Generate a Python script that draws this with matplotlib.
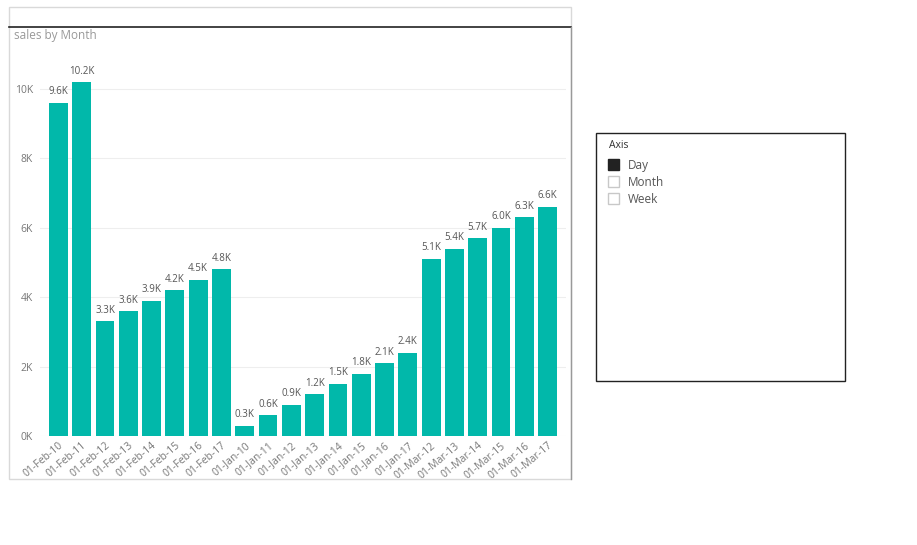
#!/bin/python3

"""
Column chart of sales by month, with an axis slicer box on the right.
"""

import matplotlib.pyplot as plt
from matplotlib.patches import Rectangle
from matplotlib.lines import Line2D

W, H = 917, 545

months = [
    "01-Feb-10", "01-Feb-11", "01-Feb-12", "01-Feb-13", "01-Feb-14", "01-Feb-15",
    "01-Feb-16", "01-Feb-17", "01-Jan-10", "01-Jan-11", "01-Jan-12", "01-Jan-13",
    "01-Jan-14", "01-Jan-15", "01-Jan-16", "01-Jan-17", "01-Mar-12", "01-Mar-13",
    "01-Mar-14", "01-Mar-15", "01-Mar-16", "01-Mar-17",
]
sales = [
    9600, 10200, 3300, 3600, 3900, 4200, 4500, 4800,
    300, 600, 900, 1200, 1500, 1800, 2100, 2400,
    5100, 5400, 5700, 6000, 6300, 6600,
]
yticks = [0, 2000, 4000, 6000, 8000, 10000]
ytick_labels = ["0K", "2K", "4K", "6K", "8K", "10K"]
slicer_items = ["Day", "Month", "Week"]
slicer_checked = [True, False, False]

BAR_COLOR = "#01B8AA"
FONT = ["Open Sans", "DejaVu Sans"]


def px(x, y):
    """Pixel coords (top-left origin) to figure fraction."""
    return x / W, 1 - y / H


def main() -> None:
    plt.rcParams["font.family"] = FONT
    fig = plt.figure(figsize=(W / 100, H / 100), dpi=100)
    fig.patch.set_facecolor("white")

    # visual frame
    x0, y0 = px(9, 479)
    fig.patches.append(Rectangle((x0, y0), 562 / W, 472 / H, transform=fig.transFigure,
                                 fill=False, edgecolor="#d9d9d9", linewidth=1))
    fig.lines.append(Line2D([9 / W, 571 / W], [1 - 27 / H] * 2, transform=fig.transFigure,
                            color="#222222", linewidth=1.2))
    fig.lines.append(Line2D([571 / W] * 2, [1 - 27 / H, 1 - 479 / H], transform=fig.transFigure,
                            color="#999999", linewidth=1))
    fig.text(*px(14, 36), "sales by Month", color="#999999", fontsize=8.5, va="center")

    # chart
    ax = fig.add_axes([40 / W, (H - 436) / H, 526 / W, 376 / H])
    xs = list(range(len(sales)))
    ax.bar(xs, sales, width=0.81, color=BAR_COLOR, zorder=2)
    for x, v in zip(xs, sales):
        ax.annotate(f"{v / 1000:.1f}K", (x, v), xytext=(0, 4), textcoords="offset points",
                    ha="center", va="bottom", fontsize=7, color="#555555")
    ax.set_xlim(-0.79, len(sales) - 1 + 0.79)
    ax.set_ylim(0, 10836)
    ax.set_yticks(yticks)
    ax.set_yticklabels(ytick_labels)
    ax.set_xticks(xs)
    ax.set_xticklabels(months, rotation=40, ha="right", rotation_mode="anchor")
    ax.tick_params(axis="both", length=0, labelsize=7.5, labelcolor="#777777")
    ax.tick_params(axis="y", pad=5)
    ax.tick_params(axis="x", pad=3)
    ax.grid(axis="y", color="#eeeeee", linewidth=0.8, zorder=0)
    for side in ("top", "right", "left", "bottom"):
        ax.spines[side].set_visible(False)

    # slicer box
    bx, by = px(596, 381)
    fig.patches.append(Rectangle((bx, by), 249 / W, 248 / H, transform=fig.transFigure,
                                 fill=False, edgecolor="#222222", linewidth=1))
    fig.text(*px(609, 146), "Axis", color="#333333", fontsize=7.5, va="center")
    for i, (name, checked) in enumerate(zip(slicer_items, slicer_checked)):
        cy = 165 + 17 * i
        cx0, cy0 = px(608, cy + 5)
        fig.patches.append(Rectangle((cx0, cy0), 11 / W, 11 / H, transform=fig.transFigure,
                                     facecolor="#222222" if checked else "white",
                                     edgecolor="#222222" if checked else "#c8c8c8",
                                     linewidth=1))
        fig.text(*px(628, cy), name, color="#555555", fontsize=8.5, va="center")

    fig.savefig("out.png", dpi=100)


if __name__ == "__main__":
    main()
